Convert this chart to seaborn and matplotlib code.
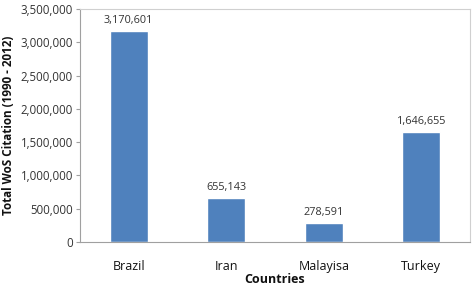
import matplotlib
matplotlib.use("Agg")
import matplotlib.pyplot as plt
import seaborn as sns
import pandas as pd
from matplotlib.ticker import FuncFormatter, MultipleLocator

countries = ["Brazil", "Iran", "Malayisa", "Turkey"]
citations = [3170601, 655143, 278591, 1646655]

df = pd.DataFrame({"Countries": countries, "Citations": citations})

sns.set_theme(style="white")
plt.rcParams['font.family'] = ['Open Sans', 'DejaVu Sans']

fig = plt.figure(figsize=(4.74, 2.89), dpi=100)
ax = fig.add_axes([80/474, 1 - 242/289, 390/474, (242 - 9)/289])

sns.barplot(data=df, x="Countries", y="Citations", color="#4F81BD", width=0.39,
            saturation=1, ax=ax)

ax.set_ylim(0, 3500000)
ax.yaxis.set_major_locator(MultipleLocator(500000))
ax.yaxis.set_major_formatter(FuncFormatter(lambda v, p: f"{int(v):,}"))
ax.set_xlim(-0.5, 3.5)

for i, v in enumerate(citations):
    ax.text(i, v + 80000, f"{v:,}", ha="center", va="bottom", fontsize=7.8, color="#333333")

for s in ax.spines.values():
    s.set_color("#d0d0d0")
    s.set_linewidth(0.8)
ax.spines["left"].set_color("#a0a0a0")
ax.spines["bottom"].set_color("#a0a0a0")

ax.tick_params(axis="y", which="major", left=True, length=3, width=0.8, color="#a0a0a0",
               labelsize=8.3, labelcolor="#333333", pad=2)
ax.tick_params(axis="x", bottom=False, labelsize=9, labelcolor="#111111", pad=7)

ax.set_xlabel("Countries", fontsize=9, fontweight="bold", color="#111111", labelpad=0)
ax.set_ylabel("Total WoS Citation (1990 - 2012)", fontsize=8.4, fontweight="bold",
              color="#111111", labelpad=4)

fig.savefig("out.png", dpi=100, facecolor="white")
